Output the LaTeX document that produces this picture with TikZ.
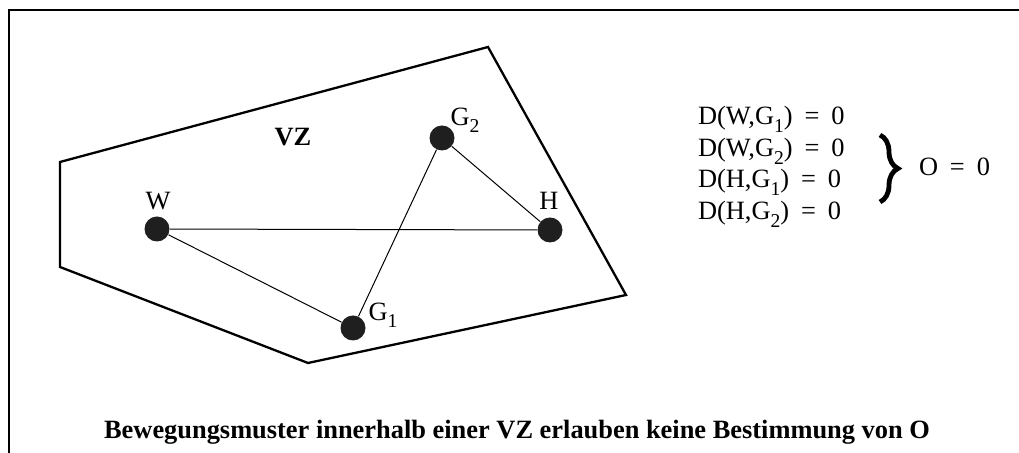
\documentclass[tikz,border=0pt]{standalone}
\usepackage{fontspec}
\setmainfont{Liberation Serif}
\usetikzlibrary{decorations.pathreplacing}

\newcommand{\lowsub}[1]{\raisebox{-0.6ex}{\fontsize{9.8}{10}\selectfont #1}}
\newcommand{\eqsign}{\hspace{0.45em}=\hspace{0.45em}}

\begin{document}
\begin{tikzpicture}[x=0.5pt,y=-0.5pt,font=\fontsize{13.2}{15}\selectfont]
    % page size and frame (open on the right and at the bottom)
    \useasboundingbox (0,0) rectangle (1019,453);
    \draw[line width=0.75pt] (9,453) -- (9,10) -- (1019,10);

    % the zone VZ
    \draw[line width=1.15pt,line join=miter]
        (60,162) -- (488,47) -- (626,295) -- (308,363) -- (60,267) -- cycle;
    \node[font=\fontsize{13.2}{15}\selectfont\bfseries] (vz) at (293,137) {VZ};

    % positions
    \tikzset{spot/.style={circle,fill=black!88,inner sep=0pt,minimum size=12.5pt}}
    \node[spot] (W)  at (157,229) {};
    \node[spot] (G1) at (353,328) {};
    \node[spot] (G2) at (442,138) {};
    \node[spot] (H)  at (550,230) {};

    % labels of the positions
    \node (lW)  at (158,201) {W};
    \node (lH)  at (549,201) {H};
    \node (lG1) at (383,315) {G\lowsub{1}};
    \node (lG2) at (465,120) {G\lowsub{2}};

    % movements
    \draw[line width=0.5pt] (W) -- (H);
    \draw[line width=0.5pt] (W) -- (G1);
    \draw[line width=0.5pt] (G1) -- (G2);
    \draw[line width=0.5pt] (G2) -- (H);

    % distances
    \node[anchor=base west] (d1) at (691,125) {D(W,G\lowsub{1})\eqsign0};
    \node[anchor=base west] (d2) at (691,157) {D(W,G\lowsub{2})\eqsign0};
    \node[anchor=base west] (d3) at (691,188) {D(H,G\lowsub{1})\eqsign0};
    \node[anchor=base west] (d4) at (691,220) {D(H,G\lowsub{2})\eqsign0};

    % brace and result
    \coordinate (bt) at (880,135);
    \coordinate (bb) at (880,202);
    \draw[line width=2.4pt,decorate,decoration={brace,amplitude=9pt}] (bt) -- (bb);
    \node[anchor=west] (res) at (912,167) {O\eqsign0};

    % caption
    \node[font=\fontsize{13.2}{15}\selectfont\bfseries] (cap) at (517,432)
        {Bewegungsmuster innerhalb einer VZ erlauben keine Bestimmung von O};
\end{tikzpicture}
\end{document}
